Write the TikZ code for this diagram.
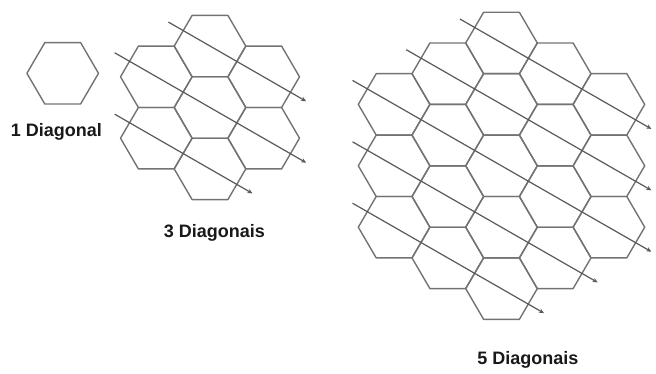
\documentclass[tikz,border=0pt]{standalone}
\usepackage{fontspec}
\setmainfont{Liberation Sans}
\usetikzlibrary{arrows.meta,calc}

\newcommand{\hR}{35.8}
\newcommand{\hH}{30.7}
% one flat-topped cell round a named centre
\newcommand{\hexcell}[1]{%
  \draw[cell] ($(#1)+(\hR,0)$) -- ++(-\hR/2,\hH) -- ++(-\hR,0) -- ++(-\hR/2,-\hH)
    -- ++(\hR/2,-\hH) -- ++(\hR,0) -- cycle;}

\begin{document}
\begin{tikzpicture}[
  x=1pt, y=1pt,
  >={Stealth[length=5pt,width=4.5pt]},
  cell/.style={draw=black!55, line width=1.4pt, line join=round},
  diag/.style={->, draw=black!65, line width=1.2pt},
  lab/.style={font=\bfseries\fontsize{18}{21}\selectfont, text=black!90},
]
\useasboundingbox (0,0) rectangle (656,373);

\coordinate (S) at (62.7,299.7);
\coordinate (T) at (210,265.5);
\coordinate (F) at (501.5,207.2);

% single cell
\hexcell{S}
\node[lab] (l1) at (56.4,241) {1 Diagonal};

% seven cells
\foreach \q in {-1,...,1}{
  \foreach \r in {-1,...,1}{
    \pgfmathtruncatemacro{\s}{abs(\q+\r)}
    \ifnum\s<2
      \coordinate (t\q\r) at ($(T)+({1.5*\hR*\q},{-\hH*(2*\r+\q)})$);
      \hexcell{t\q\r}
    \fi
  }
}
\foreach \r/\qa/\qb in {-1/0/1, 0/-1/1, 1/-1/0}{
  \draw[diag] ($(t\qa\r)+(150:48)$) -- ($(t\qb\r)+(-30:49)$);
}
\node[lab] (l3) at (214.5,139.7) {3 Diagonais};

% nineteen cells
\foreach \q in {-2,...,2}{
  \foreach \r in {-2,...,2}{
    \pgfmathtruncatemacro{\s}{abs(\q+\r)}
    \ifnum\s<3
      \coordinate (f\q\r) at ($(F)+({1.5*\hR*\q},{-\hH*(2*\r+\q)})$);
      \hexcell{f\q\r}
    \fi
  }
}
\foreach \r/\qa/\qb in {-2/0/2, -1/-1/2, 0/-2/2, 1/-2/1, 2/-2/0}{
  \draw[diag] ($(f\qa\r)+(150:48)$) -- ($(f\qb\r)+(-30:49)$);
}
\node[lab] (l5) at (528,13.5) {5 Diagonais};
\end{tikzpicture}
\end{document}
